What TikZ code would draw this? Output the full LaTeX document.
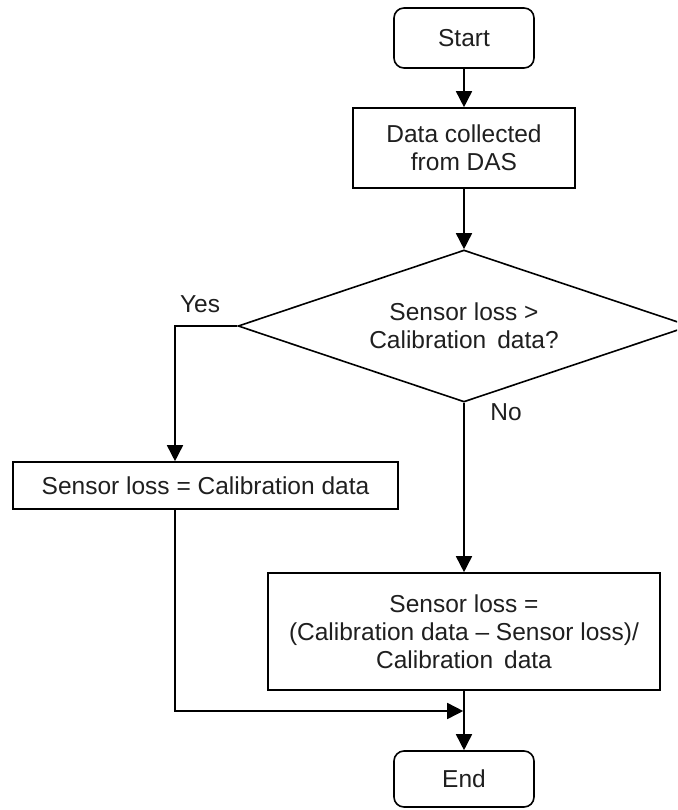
\documentclass[tikz,border=0pt]{standalone}
\usepackage{fontspec}
\setmainfont{Liberation Sans}
\usetikzlibrary{shapes.geometric,arrows.meta}
\begin{document}
\begin{tikzpicture}[x=1pt,y=-1pt,line width=1.6pt,
  every node/.style={font=\fontsize{24.5}{28}\selectfont,text=black!88},
  term/.style={draw=black,rounded corners=10pt,inner sep=0pt,minimum width=140pt},
  proc/.style={draw=black,inner sep=0pt,align=center},
  dec/.style={draw=black,diamond,aspect=2.97,inner sep=0pt,minimum width=452pt,minimum height=152pt,align=center},
  arr/.style={-{Triangle[length=16pt,width=16pt]}}]
\clip (0,0) rectangle (677,810);
\node[term,minimum height=60pt] (start) at (464,38) {Start};
\node[proc,minimum width=222pt,minimum height=80pt] (das) at (464,148) {Data collected\\from DAS};
\node[dec] (dec) at (464,326) {Sensor loss >\\Calibration\hspace{0.45em}data?};
\node[proc,minimum width=385pt,minimum height=47pt] (lbox) at (205.5,485.5) {Sensor loss = Calibration data};
\node[proc,minimum width=392pt,minimum height=117pt] (rbox) at (464,631.5) {Sensor loss =\\(Calibration data – Sensor loss)/\\Calibration\hspace{0.45em}data};
\node[term,minimum height=56pt] (end) at (464,779) {End};
\node (yes) at (200,304) {Yes};
\node (no) at (506,412) {No};
\coordinate (yx) at (175,0);
\coordinate (merge) at (464,711);
\draw[arr] (start) -- (das);
\draw[arr] (das) -- (dec);
\draw[arr] (dec.west) -| (yx |- lbox.north);
\draw[arr] (dec.south) -- (rbox.north);
\draw[arr,shorten >=0.8pt] (yx |- lbox.south) |- (merge);
\draw[arr] (rbox.south) -- (end.north);
\end{tikzpicture}
\end{document}
